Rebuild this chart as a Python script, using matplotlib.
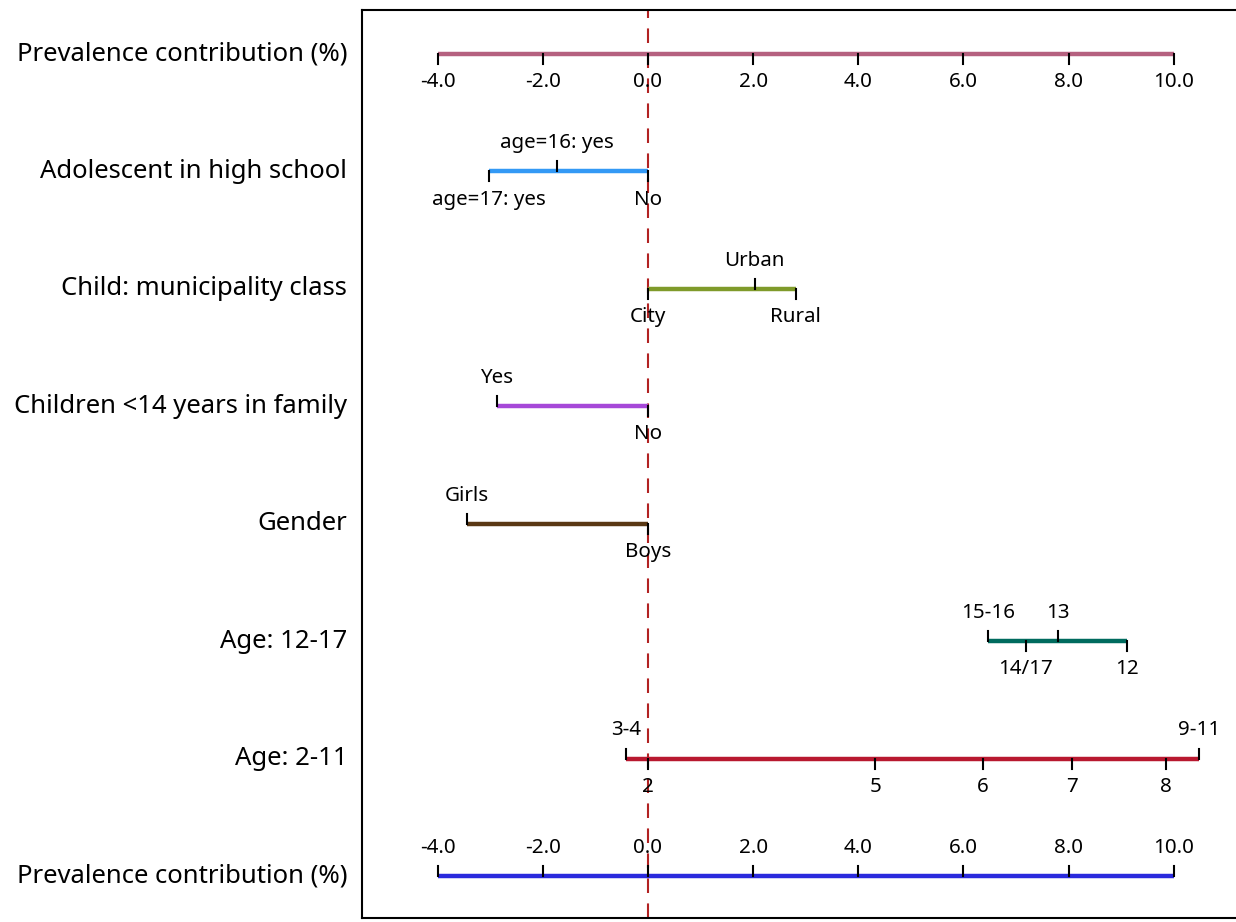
import matplotlib.pyplot as plt
from matplotlib.transforms import blended_transform_factory

plt.rcParams['font.family'] = ['Noto Sans', 'DejaVu Sans']

# row names, top to bottom
row_names = ['Prevalence contribution (%)', 'Adolescent in high school',
             'Child: municipality class', 'Children <14 years in family',
             'Gender', 'Age: 12-17', 'Age: 2-11', 'Prevalence contribution (%)']

# points scale (top and bottom)
scale_vals = [-4.0, -2.0, 0.0, 2.0, 4.0, 6.0, 8.0, 10.0]
scale_labels = ['-4.0', '-2.0', '0.0', '2.0', '4.0', '6.0', '8.0', '10.0']

school_vals = [-3.02, -1.73, 0.0]
school_labels = ['age=17: yes', 'age=16: yes', 'No']

municip_vals = [0.0, 2.03, 2.81]
municip_labels = ['City', 'Urban', 'Rural']

kids_vals = [-2.88, 0.0]
kids_labels = ['Yes', 'No']

gender_vals = [-3.44, 0.0]
gender_labels = ['Girls', 'Boys']

age1217_vals = [6.47, 7.19, 7.79, 9.12]
age1217_labels = ['15-16', '14/17', '13', '12']

age211_vals = [-0.42, 0.0, 4.32, 6.37, 8.06, 9.85, 10.48]
age211_labels = ['3-4', '2', '5', '6', '7', '8', '9-11']

# layout: +1 = label above the line, -1 = below
rows = [
    (scale_vals, scale_labels, [-1] * 8, '#B5617F'),
    (school_vals, school_labels, [-1, 1, -1], '#3399F5'),
    (municip_vals, municip_labels, [-1, 1, -1], '#7F9A2A'),
    (kids_vals, kids_labels, [1, -1], '#A648D8'),
    (gender_vals, gender_labels, [1, -1], '#5A3814'),
    (age1217_vals, age1217_labels, [1, -1, 1, -1], '#006B5E'),
    (age211_vals, age211_labels, [1, -1, -1, -1, -1, -1, 1], '#B8182F'),
    (scale_vals, scale_labels, [1] * 8, '#2A2ADD'),
]

fig = plt.figure(figsize=(12.36, 9.22), dpi=100)
ax = fig.add_axes([362 / 1236, 4 / 922, 874 / 1236, 908 / 922])
ax.set_xlim(-5.44, 11.185)
ax.set_ylim(-0.358, 7.375)

tick_len = 0.085
lab_off = 0.24

ax.axvline(0, color='#B22222', lw=1.5, dashes=(7, 5), zorder=1)

trans = blended_transform_factory(ax.transAxes, ax.transData)
n = len(rows)
for i, (vals, labels, sides, color) in enumerate(rows):
    y = n - 1 - i
    ax.plot([min(vals), max(vals)], [y, y], color=color, lw=3.2,
            solid_capstyle='butt', zorder=2)
    for v, lab, s in zip(vals, labels, sides):
        ax.plot([v, v], [y, y + s * tick_len], color='black', lw=1.5, zorder=3)
        ax.text(v, y + s * lab_off, lab, ha='center', va='center', fontsize=14.8)
    ax.text(-0.017, y, row_names[i], transform=trans, ha='right', va='center',
            fontsize=18.5)

ax.set_xticks([])
ax.set_yticks([])
ax.spines['right'].set_visible(False)
for sp in ['left', 'top', 'bottom']:
    ax.spines[sp].set_linewidth(1.5)

fig.savefig('out.png', dpi=100)
